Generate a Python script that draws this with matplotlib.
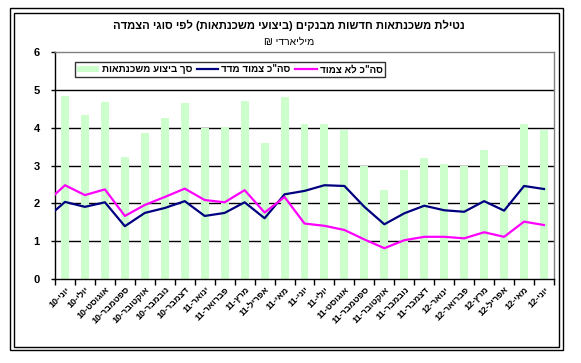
import re
import numpy as np
import matplotlib
matplotlib.use('Agg')
import matplotlib.pyplot as plt
from matplotlib.patches import Rectangle

plt.rcParams['font.family'] = ['Liberation Sans', 'DejaVu Sans']


def heb(s):
    # matplotlib has no bidi support: flip to visual order
    r = s[::-1]
    r = re.sub(r'\d+', lambda m: m.group(0)[::-1], r)
    return r.translate(str.maketrans('()', ')('))


months = ['יוני-10', 'יולי-10', 'אוגוסט-10', 'ספטמבר-10', 'אוקטובר-10', 'נובמבר-10',
          'דצמבר-10', 'ינואר-11', 'פברואר-11', 'מרץ-11', 'אפריל-11', 'מאי-11',
          'יוני-11', 'יולי-11', 'אוגוסט-11', 'ספטמבר-11', 'אוקטובר-11', 'נובמבר-11',
          'דצמבר-11', 'ינואר-12', 'פברואר-12', 'מרץ-12', 'אפריל-12', 'מאי-12', 'יוני-12']

total = [4.82, 4.32, 4.67, 3.23, 3.86, 4.25, 4.65, 3.99, 4.02, 4.70, 3.59, 4.81,
         4.09, 4.09, 3.93, 3.00, 2.35, 2.88, 3.20, 3.03, 2.98, 3.40, 3.00, 4.09, 3.93]

# first value is where the line enters at the left axis edge
cpi_linked = [1.81, 2.04, 1.91, 2.03, 1.40, 1.75, 1.88, 2.06, 1.67, 1.75, 2.03, 1.61, 2.24,
              2.33, 2.48, 2.46, 1.91, 1.45, 1.74, 1.94, 1.82, 1.78, 2.06, 1.81, 2.46, 2.38]
unlinked = [2.24, 2.48, 2.22, 2.37, 1.67, 1.96, 2.17, 2.39, 2.09, 2.03, 2.35, 1.76, 2.17,
            1.47, 1.41, 1.30, 1.05, 0.82, 1.03, 1.12, 1.12, 1.08, 1.24, 1.12, 1.52, 1.43]

W, H = 581, 363
fig = plt.figure(figsize=(W / 100, H / 100), dpi=100)
ax = fig.add_axes([55 / W, 1 - 279.3 / H, 499 / W, 227.6 / H])

x = np.arange(len(months))
line_x = np.concatenate([[-0.5], x])

bars = ax.bar(x, total, width=0.4, color='#CCFFCC', zorder=2)
l1, = ax.plot(line_x, cpi_linked, color='#000080', lw=1.6, zorder=3)
l2, = ax.plot(line_x, unlinked, color='#FF00FF', lw=1.6, zorder=3)

ax.set_xlim(-0.5, len(months) - 0.5)
ax.set_ylim(0, 6)
ax.set_yticks(range(7))
ax.set_yticklabels([str(v) for v in range(7)], fontsize=8, fontweight='bold')
for v in range(1, 6):
    ax.axhline(v, color='black', lw=1, zorder=1)

ax.set_xticks(np.arange(-0.5, len(months)))
ax.set_xticklabels([])
ax.set_xticks(x, minor=True)
ax.set_xticklabels([heb(m) for m in months], minor=True, rotation=45, ha='right',
                   va='top', rotation_mode='anchor', fontsize=6.5, fontweight='bold')
ax.tick_params(axis='x', which='minor', length=0, pad=4)
ax.tick_params(axis='x', which='major', length=4, width=1, direction='out')
ax.tick_params(axis='y', length=3, width=1, direction='out', pad=8)

for s in ['left', 'bottom']:
    ax.spines[s].set_color('black')
    ax.spines[s].set_linewidth(1)
for s in ['top', 'right']:
    ax.spines[s].set_color('#808080')
    ax.spines[s].set_linewidth(1)

leg = ax.legend([bars, l1, l2],
                [heb('סך ביצוע משכנתאות'), heb('סה"כ צמוד מדד'), heb('סה"כ לא צמוד')],
                loc='upper left', bbox_to_anchor=(0.04, 0.955), ncol=3,
                prop={'size': 7, 'weight': 'bold'}, frameon=True, fancybox=False,
                borderpad=0.25, handlelength=2.2, handletextpad=0.3, columnspacing=0.5,
                borderaxespad=0)
leg.get_frame().set_edgecolor('black')
leg.get_frame().set_linewidth(1)

fig.text(289 / W, 1 - 25 / H, heb('נטילת משכנתאות חדשות מבנקים (ביצועי משכנתאות) לפי סוגי הצמדה'),
         ha='center', va='center', fontsize=8, fontweight='bold')
fig.text(289 / W, 1 - 42 / H, heb('מיליארדי ₪'), ha='center', va='center', fontsize=7.5)

fig.add_artist(Rectangle((10 / W, 1 - 350 / H), 553 / W, 342 / H, transform=fig.transFigure,
                         fill=False, edgecolor='black', lw=1))
fig.add_artist(Rectangle((14 / W, 1 - 347 / H), 545 / W, 334 / H, transform=fig.transFigure,
                         fill=False, edgecolor='black', lw=1))

fig.savefig('out.png', dpi=100)
